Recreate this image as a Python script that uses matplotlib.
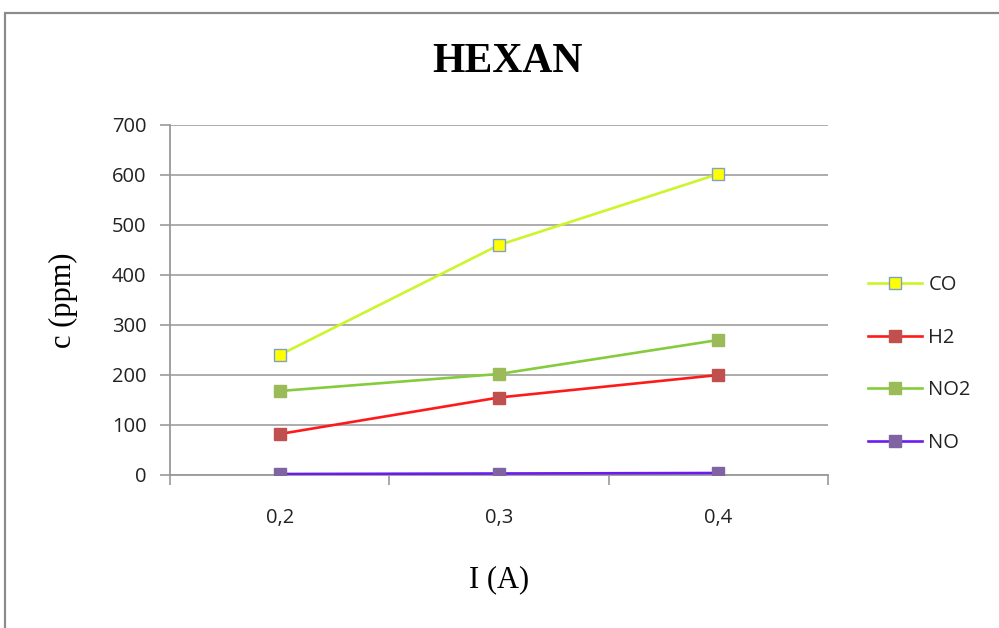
import numpy as np
import matplotlib
matplotlib.use("Agg")
import matplotlib.pyplot as plt
from matplotlib.patches import Rectangle

# data
currents = ["0,2", "0,3", "0,4"]
co = [240, 460, 602]
h2 = [82, 155, 200]
no2 = [168, 202, 270]
no = [2, 3, 4]

series = [
    ("CO", co, "#ccf52a", "#ffff00", "#7f9fcf"),
    ("H2", h2, "#ff1a1a", "#c0504d", "#c0504d"),
    ("NO2", no2, "#84cc3c", "#9bbb59", "#9bbb59"),
    ("NO", no, "#6a1cf0", "#8064a2", "#8064a2"),
]

sans = ["Open Sans", "DejaVu Sans"]
serif = ["Liberation Serif", "DejaVu Serif"]

fig = plt.figure(figsize=(9.99, 6.28), dpi=100)
fig.patch.set_facecolor("white")

# outer chart frame (only top and left edges visible in the crop)
fig.patches.append(Rectangle((5 / 999, -0.2), 1.5, 1.2 - 13 / 628,
                             transform=fig.transFigure, fill=False,
                             edgecolor="#8c8c8c", linewidth=1.6))

ax = fig.add_axes([170 / 999, 1 - 475 / 628, 658 / 999, 350 / 628])
x = np.arange(len(currents))

for name, vals, lc, fc, ec in series:
    ax.plot(x, vals, "-", color=lc, lw=1.9, marker="s", markersize=8.5,
            markerfacecolor=fc, markeredgecolor=ec, markeredgewidth=1.0,
            label=name, zorder=3)

ax.set_xlim(-0.5, 2.5)
ax.set_ylim(0, 700)
ax.set_yticks(np.arange(0, 701, 100))
ax.grid(axis="y", color="#a6a6a6", lw=1.3)
ax.set_axisbelow(True)

ax.set_xticks(x)
ax.set_xticklabels(currents, fontfamily=sans, fontsize=14.5, color="#222222")
ax.set_xticks([-0.5, 0.5, 1.5, 2.5], minor=True)
ax.tick_params(axis="x", which="major", length=0, pad=24)
ax.tick_params(axis="x", which="minor", length=7, width=1.2, color="#999999")
ax.tick_params(axis="y", length=7, width=1.2, color="#999999", pad=10,
               labelsize=14.5, labelcolor="#222222")
for lbl in ax.get_yticklabels():
    lbl.set_fontfamily(sans)

for s in ["top", "right"]:
    ax.spines[s].set_visible(False)
for s in ["left", "bottom"]:
    ax.spines[s].set_color("#999999")
    ax.spines[s].set_linewidth(1.3)

fig.text(507 / 999, 1 - 62 / 628, "HEXAN", fontfamily=serif, fontweight="bold",
         fontsize=30, ha="center", va="center")
fig.text(63 / 999, 1 - 300 / 628, "c (ppm)", fontfamily=serif, fontsize=22,
         rotation=90, ha="center", va="center")
fig.text(499 / 999, 1 - 580 / 628, "I (A)", fontfamily=serif, fontsize=22,
         ha="center", va="center")

leg = ax.legend(loc="center left", bbox_to_anchor=(868 / 999, 1 - 364 / 628),
                bbox_transform=fig.transFigure, frameon=False, borderpad=0,
                borderaxespad=0, handlelength=2.7, handletextpad=0.3,
                labelspacing=1.62, prop={"family": sans, "size": 14.5})
for t in leg.get_texts():
    t.set_color("#222222")

fig.savefig("out.png", dpi=100, facecolor="white")
